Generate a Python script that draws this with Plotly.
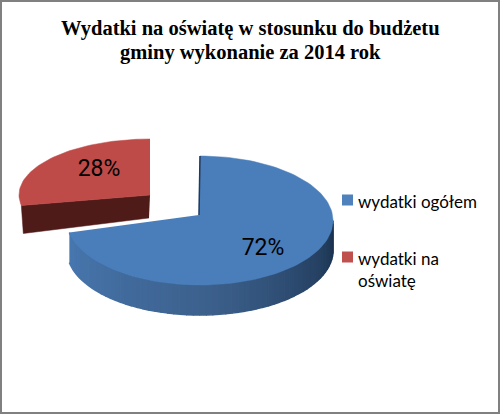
import numpy as np
import plotly.graph_objects as go

TITLE_LINES = ["Wydatki na oświatę w stosunku do budżetu", "gminy wykonanie za 2014 rok"]
CATEGORIES = ["wydatki ogółem", "wydatki na<br>oświatę"]
VALUES = [72, 28]
TOP_COLORS = ["#4a7ebb", "#be4b48"]
LEGEND_COLORS = ["#4f81bd", "#c0504d"]

# pie geometry in page pixels, the axes below run 0-500 / 414-0
BLUE = dict(cx=200, cy=220.5, a=133, b=64.5, apex=(199, 215), depth=30)
RED = dict(cx=150, cy=195, a=131, b=56, apex=(150, 195), depth=26)


def rim(s, theta):
    # theta is clockwise from 12 o'clock, in degrees
    t = np.radians(theta)
    return s['cx'] + s['a'] * np.sin(t), s['cy'] - s['b'] * np.cos(t)


def add_poly(fig, xs, ys, color, width=0.5):
    fig.add_trace(go.Scatter(x=list(xs), y=list(ys), mode='lines', fill='toself', fillcolor=color,
                             line=dict(color=color, width=width), hoverinfo='skip', showlegend=False))


def side_color(frac):
    # left to right along the blue wall: steel blue, then dark navy
    stops = [(0.0, (72, 120, 176)), (0.5, (60, 96, 140)), (1.0, (27, 51, 80))]
    for (f0, c0), (f1, c1) in zip(stops, stops[1:]):
        if frac <= f1:
            k = (frac - f0) / (f1 - f0)
            r, g, b = [int(c0[i] + (c1[i] - c0[i]) * k) for i in range(3)]
            return f'rgb({r},{g},{b})'
    return 'rgb(27,51,80)'


blue_end = VALUES[0] / sum(VALUES) * 360

fig = go.Figure()

# red slice, pulled out of the pie
rx0, ry0 = rim(RED, blue_end)
ax, ay = RED['apex']
add_poly(fig, [ax, rx0, rx0 + 2, ax - 1], [ay, ry0, ry0 + RED['depth'] + 2, ay + 23], "#4f1b19")
arc = np.linspace(blue_end, 360, 50)
px, py = rim(RED, arc)
add_poly(fig, [ax] + list(px), [ay] + list(py), TOP_COLORS[1])

# blue wall, one thin quad per step so the shading runs along it
steps = np.linspace(blue_end, 90, 61)
for i in range(len(steps) - 1):
    x0, y0 = rim(BLUE, steps[i])
    x1, y1 = rim(BLUE, steps[i + 1])
    d = BLUE['depth']
    add_poly(fig, [x0, x1, x1, x0], [y0, y1, y1 + d, y0 + d], side_color(i / (len(steps) - 2)), width=1.5)

# blue top
arc = np.linspace(0, blue_end, 120)
px, py = rim(BLUE, arc)
bx, by = BLUE['apex']
add_poly(fig, [bx] + list(px), [by] + list(py), TOP_COLORS[0])
tx, ty = rim(BLUE, 0)
fig.add_trace(go.Scatter(x=[tx, bx], y=[ty, by], mode='lines', line=dict(color="#1f3a5c", width=1.5),
                         hoverinfo='skip', showlegend=False))

# percent labels
fig.add_trace(go.Scatter(x=[263, 99], y=[249.5, 170], mode='text', text=[f"{v}%" for v in VALUES],
                         textfont=dict(family="Roboto", size=23, color="black"), hoverinfo='skip', showlegend=False))

# legend drawn by hand, the built-in one leaves too wide a gap after the key
fig.add_trace(go.Scatter(x=[347.5, 347.5], y=[200, 257], mode='markers',
                         marker=dict(symbol='square', size=11, color=LEGEND_COLORS),
                         hoverinfo='skip', showlegend=False))
annotations = []
for cat, y in zip(CATEGORIES, [189, 246]):
    annotations.append(dict(x=356, y=y, xref='x', yref='y', text=cat, showarrow=False, xanchor='left', yanchor='top',
                            align='left', font=dict(family="Lato", size=17, color="black")))

# title as two annotations, its lines sit closer than plotly's line height
for line, y in zip(TITLE_LINES, [28, 52]):
    annotations.append(dict(x=250, y=y, xref='x', yref='y', text=f"<b>{line}</b>", showarrow=False,
                            xanchor='center', yanchor='middle',
                            font=dict(family="Liberation Serif", size=20.5, color="black")))

fig.update_layout(
    width=500, height=414,
    margin=dict(l=0, r=0, t=0, b=0),
    paper_bgcolor='white', plot_bgcolor='white',
    showlegend=False,
    xaxis=dict(range=[0, 500], visible=False, fixedrange=True),
    yaxis=dict(range=[414, 0], visible=False, fixedrange=True),
    annotations=annotations,
    shapes=[dict(type='rect', xref='paper', yref='paper', x0=0, y0=0, x1=1, y1=1,
                 line=dict(color="#808080", width=4))],
)

fig.write_html("out.html", config=dict(displayModeBar=False),
               post_script="document.body.style.margin='0';document.body.style.overflow='hidden';")
